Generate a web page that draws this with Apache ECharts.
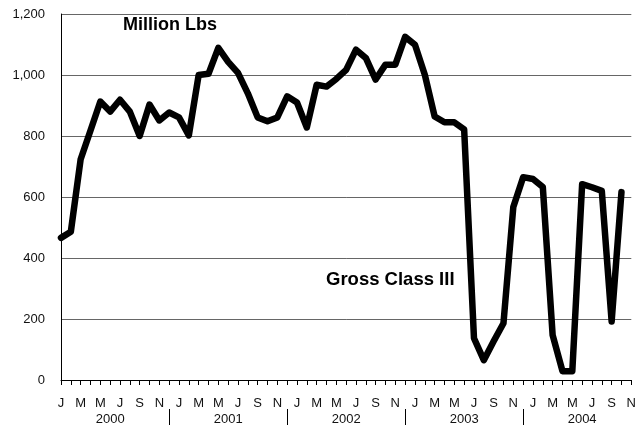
<!DOCTYPE html>
<html>
<head>
<meta charset="utf-8">
<script src="https://cdn.jsdelivr.net/npm/echarts@6/dist/echarts.min.js"></script>
<style>
  html, body { margin: 0; padding: 0; background: #fff; }
  #main { width: 639px; height: 426px; }
</style>
</head>
<body>
<div id="main"></div>
<script>
// 数据
const years = ['2000', '2001', '2002', '2003', '2004']
const monthLetters = ['J', 'F', 'M', 'A', 'M', 'J', 'J', 'A', 'S', 'O', 'N', 'D']
// Jan 2000 .. Nov 2004
const categories = years.flatMap(y => monthLetters.map((m, k) => y + '-' + (k + 1))).slice(0, 59)

// Gross Class III, million lbs
const grossClassIII = [
  466, 486, 724, 818, 913, 880, 919, 880, 800, 903, 851, 877,
  861, 802, 1000, 1004, 1089, 1043, 1007, 940, 861, 848, 861, 930,
  910, 828, 968, 962, 987, 1017, 1083, 1056, 985, 1034, 1034, 1125,
  1099, 1001, 864, 845, 845, 822, 137, 65, 127, 186, 567, 665,
  659, 633, 147, 29, 29, 642, 632, 620, 192, 616
]

const yTicks = { min: 0, max: 1200, interval: 200 }

const fmtThousands = v => String(v).replace(/\B(?=(\d{3})+(?!\d))/g, ',')

const chartBox = echarts.init(document.getElementById('main'))
const font = '"Liberation Sans", Arial, sans-serif'

const option = {
  animation: false,
  backgroundColor: '#fff',
  grid: { left: 61, right: 1.5, top: 14, bottom: 44 },
  xAxis: [
    {
      type: 'category',
      data: categories,
      boundaryGap: false,
      axisLine: { lineStyle: { color: '#000', width: 1 } },
      axisTick: { interval: 0, length: 5, lineStyle: { color: '#000' } },
      axisLabel: {
        interval: 1,
        margin: 17,
        color: '#111',
        fontFamily: font,
        fontSize: 13,
        formatter: (v, i) => monthLetters[i % 12]
      },
      splitLine: { show: false }
    },
    {
      // 年份
      type: 'category',
      data: categories,
      boundaryGap: false,
      position: 'bottom',
      offset: 29,
      axisLine: { show: false },
      axisTick: {
        interval: i => i % 12 === 11,
        length: 16,
        lineStyle: { color: '#000' }
      },
      axisLabel: {
        interval: i => i % 12 === 5,
        margin: 4,
        color: '#111',
        fontFamily: font,
        fontSize: 13,
        formatter: (v, i) => years[Math.floor(i / 12)]
      }
    }
  ],
  yAxis: {
    type: 'value',
    min: yTicks.min,
    max: yTicks.max,
    interval: yTicks.interval,
    axisLine: { show: true, lineStyle: { color: '#000', width: 1 } },
    axisTick: { show: false },
    axisLabel: {
      margin: 16,
      color: '#111',
      fontFamily: font,
      fontSize: 13,
      formatter: v => fmtThousands(v)
    },
    splitLine: { lineStyle: { color: '#666', width: 1 } }
  },
  series: [
    {
      name: 'Gross Class III',
      type: 'line',
      data: grossClassIII,
      showSymbol: false,
      lineStyle: { color: '#000', width: 6.5, join: 'round', cap: 'round' }
    }
  ],
  graphic: [
    {
      type: 'text',
      left: 123,
      top: 16,
      style: { text: 'Million Lbs', font: 'bold 18px ' + font, fill: '#000' }
    },
    {
      type: 'text',
      left: 326,
      top: 270,
      style: { text: 'Gross Class III', font: 'bold 18.5px ' + font, fill: '#000' }
    }
  ]
}
chartBox.setOption(option)
window.addEventListener('resize', function () {
  chartBox.resize()
})
</script>
</body>
</html>
